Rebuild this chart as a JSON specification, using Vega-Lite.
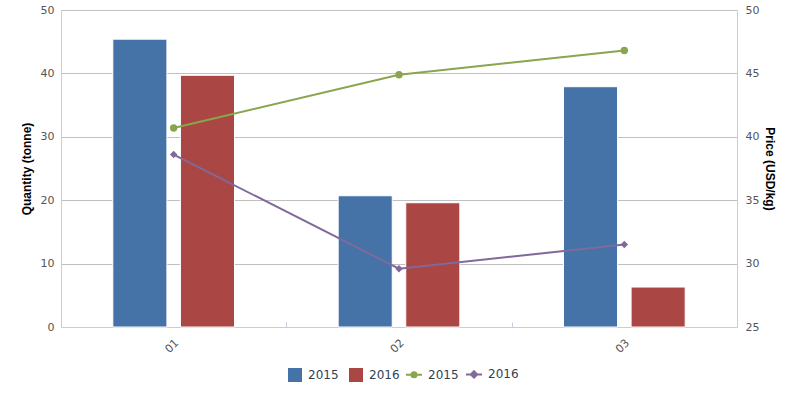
{
  "$schema": "https://vega.github.io/schema/vega-lite/v6.json",
  "width": 676,
  "height": 317,
  "autosize": {"type": "none"},
  "padding": {"left": 61, "top": 10, "right": 70, "bottom": 66},
  "background": "white",
  "config": {
    "font": "DejaVu Sans",
    "view": {"stroke": null},
    "axis": {
      "labelFont": "DejaVu Sans",
      "labelFontSize": 11,
      "labelColor": "#555555",
      "titleFont": "Liberation Sans",
      "titleFontSize": 12,
      "titleFontWeight": "bold",
      "titleColor": "#000000"
    },
    "legend": {
      "labelFont": "DejaVu Sans",
      "labelFontSize": 12,
      "labelColor": "#2f3f55",
      "padding": 0,
      "orient": "none",
      "direction": "horizontal",
      "title": null
    }
  },
  "datasets": {
    "qty": [
      {"month": "01", "year": "2015", "quantity": 45.4},
      {"month": "01", "year": "2016", "quantity": 39.7},
      {"month": "02", "year": "2015", "quantity": 20.7},
      {"month": "02", "year": "2016", "quantity": 19.6},
      {"month": "03", "year": "2015", "quantity": 37.9},
      {"month": "03", "year": "2016", "quantity": 6.3}
    ],
    "price": [
      {"month": "01", "year": "2015", "price": 40.7},
      {"month": "02", "year": "2015", "price": 44.9},
      {"month": "03", "year": "2015", "price": 46.8},
      {"month": "01", "year": "2016", "price": 38.6},
      {"month": "02", "year": "2016", "price": 29.6},
      {"month": "03", "year": "2016", "price": 31.5}
    ]
  },
  "layer": [
    {
      "data": {"name": "qty"},
      "mark": {"type": "bar", "stroke": "#ffffff", "strokeWidth": 1},
      "encoding": {
        "x": {
          "field": "month",
          "type": "nominal",
          "scale": {"type": "band", "paddingInner": 0, "paddingOuter": 0},
          "axis": {
            "title": null,
            "labelAngle": -45,
            "labelAlign": "right",
            "labelBaseline": "middle",
            "labelPadding": 19,
            "labelOffset": 3,
            "tickBand": "extent",
            "tickSize": -5,
            "tickColor": "#C0D0E0",
            "domainColor": "#C0D0E0",
            "grid": false
          }
        },
        "xOffset": {
          "field": "year",
          "type": "nominal",
          "scale": {"paddingInner": 0.2, "paddingOuter": 0.7667}
        },
        "y": {
          "field": "quantity",
          "type": "quantitative",
          "scale": {"domain": [0, 50], "nice": false},
          "axis": {
            "title": "Quantity (tonne)",
            "values": [0, 10, 20, 30, 40, 50],
            "grid": true,
            "gridColor": "#C0C0C0",
            "domainColor": "#C0D0E0",
            "ticks": false,
            "tickSize": 0,
            "labelPadding": 7,
            "titlePadding": 7
          }
        },
        "color": {
          "field": "year",
          "type": "nominal",
          "scale": {"domain": ["2015", "2016"], "range": ["#4572A7", "#AA4643"]},
          "legend": {
            "legendX": 227,
            "legendY": 358,
            "symbolType": "square",
            "symbolSize": 196,
            "symbolStrokeWidth": 0,
            "labelOffset": 6,
            "columnPadding": 10
          }
        }
      }
    },
    {
      "data": {"name": "price"},
      "encoding": {
        "x": {
          "field": "month",
          "type": "nominal",
          "scale": {"type": "band", "paddingInner": 0, "paddingOuter": 0}
        },
        "y": {
          "field": "price",
          "type": "quantitative",
          "scale": {"domain": [25, 50], "nice": false},
          "axis": {
            "orient": "right",
            "title": "Price (USD/kg)",
            "values": [25, 30, 35, 40, 45, 50],
            "grid": false,
            "domainColor": "#C0D0E0",
            "ticks": false,
            "tickSize": 0,
            "labelPadding": 8,
            "titlePadding": 4
          }
        },
        "color": {
          "field": "year",
          "type": "nominal",
          "scale": {"domain": ["2015", "2016"], "range": ["#89A54E", "#80699B"]},
          "legend": {
            "legendX": 344,
            "legendY": 355,
            "symbolSize": 256,
            "symbolStrokeWidth": 2,
            "labelOffset": 5,
            "columnPadding": 3,
            "encode": {
              "symbols": {
                "update": {
                  "shape": {"signal": "datum.value === '2015' ? 'M-1,0L1,0M-0.32,0a0.32,0.32 0 1,0 0.64,0a0.32,0.32 0 1,0 -0.64,0Z' : 'M-1,0L1,0M0,-0.4L0.4,0L0,0.4L-0.4,0Z'"},
                  "fill": {"signal": "datum.value === '2015' ? '#89A54E' : '#80699B'"},
                  "stroke": {"signal": "datum.value === '2015' ? '#89A54E' : '#80699B'"},
                  "strokeWidth": {"value": 2}
                }
              }
            }
          }
        }
      },
      "layer": [
        {"mark": {"type": "line", "strokeWidth": 2}},
        {
          "mark": {"type": "point", "filled": true, "opacity": 1, "size": 55},
          "encoding": {
            "shape": {
              "field": "year",
              "type": "nominal",
              "scale": {"domain": ["2015", "2016"], "range": ["circle", "diamond"]},
              "legend": null
            }
          }
        }
      ]
    }
  ],
  "resolve": {"scale": {"y": "independent", "color": "independent"}}
}
